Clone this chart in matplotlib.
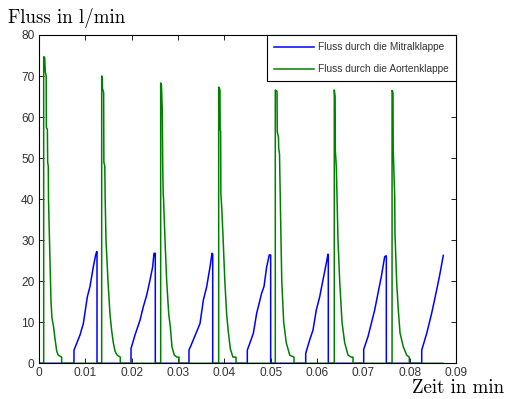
import matplotlib
matplotlib.use("Agg")
import matplotlib.pyplot as plt

# ---- data (time in min, flow in l/min) ----
mitral_t = [
    0.0, 0.00755, 0.00755, 0.00885, 0.00957, 0.01043, 0.01100, 0.01172, 0.01223, 0.01245, 0.01252, 0.01252,
    0.01986, 0.01986, 0.02072, 0.02180, 0.02252, 0.02324, 0.02396, 0.02453, 0.02482, 0.02510, 0.02510,
    0.03237, 0.03237, 0.03330, 0.03475, 0.03547, 0.03620, 0.03691, 0.03734, 0.03749, 0.03749,
    0.04496, 0.04496, 0.04626, 0.04698, 0.04806, 0.04856, 0.04914, 0.04970, 0.05000, 0.05000,
    0.05756, 0.05756, 0.05842, 0.05914, 0.05985, 0.06058, 0.06129, 0.06201, 0.06237, 0.06244, 0.06244,
    0.07008, 0.07008, 0.07101, 0.07245, 0.07317, 0.07388, 0.07461, 0.07496, 0.07496,
    0.08260, 0.08260, 0.08368, 0.08475, 0.08583, 0.08655, 0.08726,
]
mitral_v = [
    0, 0, 3.2, 6.9, 9.7, 16.2, 18.7, 23.5, 26.4, 27.2, 27.2, 0,
    0, 3.6, 6.9, 10.5, 13.8, 16.6, 20.3, 23.5, 26.8, 26.8, 0,
    0, 3.2, 5.7, 9.7, 15.4, 18.7, 23.5, 26.8, 26.6, 0,
    0, 3.2, 7.3, 12.2, 17.1, 18.7, 23.5, 26.4, 26.4, 0,
    0, 2.4, 5.7, 8.1, 13.0, 16.2, 20.3, 24.4, 26.6, 26.4, 0,
    0, 3.4, 6.5, 13.0, 17.1, 21.1, 26.0, 26.2, 0,
    0, 3.2, 7.3, 12.2, 17.9, 21.9, 26.3,
]

aorta_t = [
    0.0, 0.00101, 0.00101, 0.00123, 0.00136, 0.00155, 0.00159, 0.00181, 0.00187, 0.00200, 0.00205,
    0.00222, 0.00237, 0.00259, 0.00280, 0.00313, 0.00345, 0.00382, 0.00414, 0.00489, 0.00489,
    0.01353, 0.01353, 0.01364, 0.01370, 0.01395, 0.01400, 0.01420, 0.01428, 0.01446, 0.01489,
    0.01532, 0.01568, 0.01604, 0.01640, 0.01685, 0.01755, 0.01755,
    0.02626, 0.02626, 0.02640, 0.02648, 0.02660, 0.02670, 0.02680, 0.02688, 0.02720, 0.02756,
    0.02800, 0.02833, 0.02870, 0.02920, 0.02980, 0.03022, 0.03022,
    0.03878, 0.03878, 0.03895, 0.03906, 0.03910, 0.03920, 0.03925, 0.03944, 0.03975, 0.04011,
    0.04050, 0.04083, 0.04130, 0.04186, 0.04252, 0.04252,
    0.05100, 0.05100, 0.05137, 0.05143, 0.05169, 0.05173, 0.05191, 0.05195, 0.05208, 0.05223,
    0.05240, 0.05281, 0.05337, 0.05411, 0.05504, 0.05504,
    0.06373, 0.06373, 0.06390, 0.06395, 0.06417, 0.06432, 0.06453, 0.06490, 0.06540, 0.06598,
    0.06669, 0.06740, 0.06777, 0.06777,
    0.07620, 0.07620, 0.07640, 0.07645, 0.07677, 0.07683, 0.07720, 0.07755, 0.07792, 0.07863,
    0.07936, 0.07992, 0.07992, 0.08726,
]
aorta_v = [
    0, 0, 74.7, 74.5, 71.0, 70.0, 57.5, 57.0, 49.0, 48.0, 40.0,
    32.0, 25.0, 15.0, 11.0, 9.0, 6.0, 3.0, 2.0, 1.5, 0,
    0, 70.0, 69.8, 67.0, 66.0, 49.0, 48.0, 40.0, 30.0, 20.0,
    12.0, 8.0, 5.0, 3.0, 2.0, 1.5, 0,
    0, 68.3, 68.0, 66.2, 61.7, 48.7, 41.4, 40.0, 30.0, 20.0,
    12.0, 9.0, 4.0, 2.0, 1.5, 1.5, 0,
    0, 67.3, 67.0, 66.5, 57.0, 56.5, 41.4, 38.0, 30.0, 20.0,
    12.0, 8.0, 3.5, 1.5, 1.5, 0,
    0, 66.6, 66.3, 56.4, 55.0, 52.4, 51.0, 48.1, 40.0, 30.0,
    20.0, 10.0, 5.0, 2.0, 1.5, 0,
    0, 66.6, 65.0, 52.0, 47.9, 40.6, 30.0, 20.0, 10.0, 5.0,
    2.0, 1.5, 1.5, 0,
    0, 66.5, 66.0, 52.0, 40.6, 31.7, 19.6, 13.0, 7.4, 4.0,
    2.0, 1.5, 0, 0,
]

x_ticks = [0, 0.01, 0.02, 0.03, 0.04, 0.05, 0.06, 0.07, 0.08, 0.09]
x_ticklabels = ["0", "0.01", "0.02", "0.03", "0.04", "0.05", "0.06", "0.07", "0.08", "0.09"]
y_ticks = [0, 10, 20, 30, 40, 50, 60, 70, 80]
labels = ["Fluss durch die Mitralklappe", "Fluss durch die Aortenklappe"]

# ---- figure ----
fig = plt.figure(figsize=(5.06, 3.99), dpi=100)
ax = fig.add_axes([39/506, (399-363.3)/399, (456-39)/506, (363.3-35)/399])

ax.plot(mitral_t, mitral_v, color="#0000ff", lw=1.1, label=labels[0])
ax.plot(aorta_t, aorta_v, color="#008000", lw=1.1, label=labels[1])

ax.set_xlim(0, 0.09)
ax.set_ylim(0, 80)
ax.set_xticks(x_ticks)
ax.set_xticklabels(x_ticklabels)
ax.set_yticks(y_ticks)

for lab in ax.get_xticklabels() + ax.get_yticklabels():
    lab.set_fontfamily("Liberation Sans")
    lab.set_fontsize(8.6)
ax.tick_params(direction="in", length=3.6, width=0.6, top=True, right=True,
               colors="black", labelcolor="#333333")
ax.tick_params(axis="x", pad=3.0)
ax.tick_params(axis="y", pad=3.3)
for s in ax.spines.values():
    s.set_linewidth(0.8)
    s.set_color("black")

leg = ax.legend(loc="upper right", bbox_to_anchor=(1.0, 1.0), borderaxespad=0.0,
                fancybox=False, edgecolor="black", framealpha=1.0,
                prop=dict(family="Liberation Sans", size=7.3),
                handlelength=3.9, handletextpad=0.45, labelspacing=1.2,
                borderpad=0.7)
leg.get_frame().set_linewidth(0.8)
for t in leg.get_texts():
    t.set_color("#333333")

fig.text(8/506, (399-23.3)/399, "Fluss in l/min", family="cmr10", fontsize=13.6,
         ha="left", va="baseline")
fig.text(504/506, (399-393.3)/399, "Zeit in min", family="cmr10", fontsize=13.6,
         ha="right", va="baseline")

fig.savefig("out.png", dpi=100)
